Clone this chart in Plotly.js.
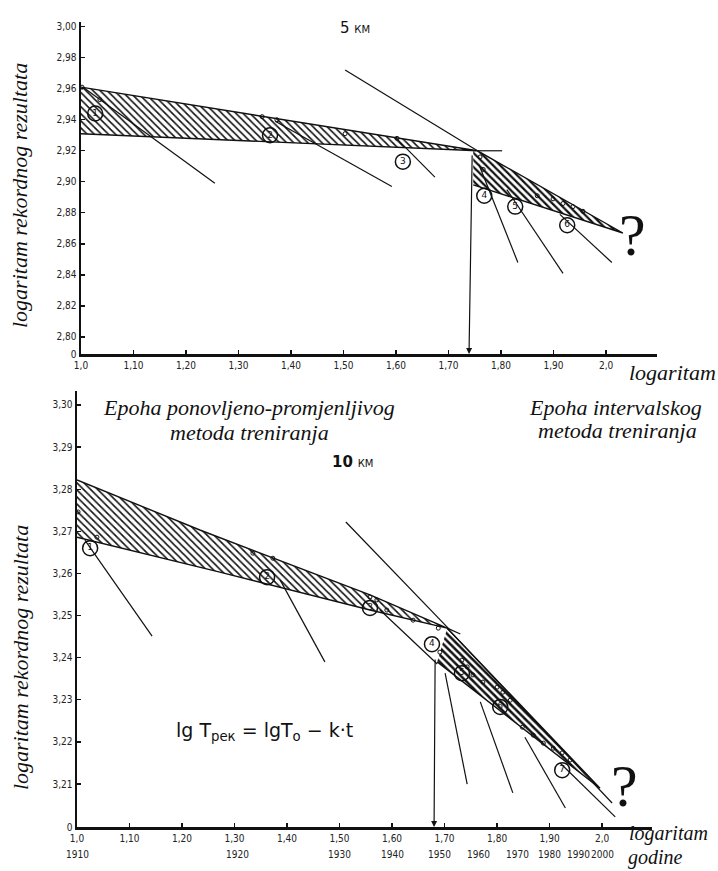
<!DOCTYPE html>
<html>
<head>
<meta charset="utf-8">
<script src="https://cdn.plot.ly/plotly-3.0.1.min.js"></script>
<style>html,body{margin:0;padding:0;background:#fff}#chart{width:718px;height:871px}</style>
</head>
<body>
<div id="chart"></div>
<script>
// ---------- axis ticks ----------
const xTickVals = [1.0, 1.1, 1.2, 1.3, 1.4, 1.5, 1.6, 1.7, 1.8, 1.9, 2.0];
const xTickText = ["1,0", "1,10", "1,20", "1,30", "1,40", "1,50", "1,60", "1,70", "1,80", "1,90", "2,0"];
const topYTickVals = [2.789, 2.80, 2.82, 2.84, 2.86, 2.88, 2.90, 2.92, 2.94, 2.96, 2.98, 3.00];
const topYTickText = ["0", "2,80", "2,82", "2,84", "2,86", "2,88", "2,90", "2,92", "2,94", "2,96", "2,98", "3,00"];
const botYTickVals = [3.1998, 3.21, 3.22, 3.23, 3.24, 3.25, 3.26, 3.27, 3.28, 3.29, 3.30];
const botYTickText = ["0", "3,21", "3,22", "3,23", "3,24", "3,25", "3,26", "3,27", "3,28", "3,29", "3,30"];
const yearLabels = ["1910", "1920", "1930", "1940", "1950", "1960", "1970", "1980", "1990", "2000"];
const yearPos = [1.0, 1.305, 1.50, 1.60, 1.69, 1.765, 1.838, 1.90, 1.955, 2.0];

// ---------- 5 km (top) ----------
const topLeftBandX = [1.0, 1.755, 1.0];
const topLeftBandY = [2.961, 2.92, 2.931];
const topRightBandX = [1.747, 1.755, 2.032, 1.747];
const topRightBandY = [2.92, 2.92, 2.867, 2.898];
const topLines = [           // [x1, y1, x2, y2]
  [1.503, 2.972, 1.755, 2.92],
  [1.755, 2.92, 1.802, 2.92],
  [1.004, 2.961, 1.255, 2.899],
  [1.370, 2.939, 1.592, 2.897],
  [1.598, 2.929, 1.674, 2.903],
  [1.758, 2.911, 1.832, 2.848],
  [1.811, 2.895, 1.918, 2.841],
  [1.912, 2.879, 2.011, 2.848]
];
const topArrow = [1.745, 2.918, 1.739, 2.789];
const topCircleX = [1.027, 1.36, 1.613, 1.768, 1.827, 1.926];
const topCircleY = [2.944, 2.930, 2.913, 2.891, 2.884, 2.872];
const topCircleLabels = ["1", "2", "3", "4", "5", "6"];
const topPointsX = [1.002, 1.036, 1.345, 1.373, 1.503, 1.602, 1.76, 1.766, 1.869, 1.899, 1.918, 1.937, 1.956];
const topPointsY = [2.961, 2.953, 2.942, 2.940, 2.931, 2.928, 2.916, 2.908, 2.891, 2.889, 2.886, 2.884, 2.881];

// ---------- 10 km (bottom) ----------
const botLeftBandX = [1.0, 1.234, 1.558, 1.705, 1.558, 1.272, 1.0];
const botLeftBandY = [3.2822, 3.2703, 3.2549, 3.2470, 3.2513, 3.2603, 3.2686];
const botRightBandX = [1.705, 1.996, 1.686];
const botRightBandY = [3.2470, 3.2090, 3.2390];
const botLines = [
  [1.512, 3.2722, 1.710, 3.2466],
  [1.705, 3.2470, 1.730, 3.2456],
  [1.705, 3.2470, 2.019, 3.2055],
  [1.920, 3.2150, 2.025, 3.2022],
  [1.015, 3.2679, 1.143, 3.2451],
  [1.387, 3.2584, 1.472, 3.2390],
  [1.577, 3.2513, 1.686, 3.2385],
  [1.701, 3.2363, 1.743, 3.2100],
  [1.768, 3.2295, 1.830, 3.2079],
  [1.853, 3.2211, 1.930, 3.2043]
];
const botArrow = [1.682, 3.2399, 1.680, 3.1998];
const botCircleX = [1.025, 1.362, 1.558, 1.676, 1.733, 1.806, 1.924];
const botCircleY = [3.2660, 3.2591, 3.2518, 3.2432, 3.2363, 3.2283, 3.2133];
const botCircleLabels = ["1", "2", "3", "4", "5", "6", "7"];
const botPointsX = [1.002, 1.038, 1.335, 1.373, 1.558, 1.571, 1.590, 1.640, 1.688, 1.691, 1.733, 1.743, 1.754, 1.773, 1.800, 1.811, 1.825, 1.848, 1.869, 1.888, 1.907, 1.924, 1.939];
const botPointsY = [3.2746, 3.2686, 3.2648, 3.2636, 3.2544, 3.2537, 3.2513, 3.2489, 3.2470, 3.2413, 3.2394, 3.2378, 3.2359, 3.2342, 3.2330, 3.2318, 3.2299, 3.2235, 3.2216, 3.2197, 3.2185, 3.2174, 3.2157];

// ---------- build ----------
const INK = '#111';
function band(x, y, xa, ya, sol) {
  return {x: x, y: y, xaxis: xa, yaxis: ya, mode: 'lines', fill: 'toself', type: 'scatter',
    line: {color: INK, width: 1.4}, fillcolor: 'rgba(0,0,0,0)',
    fillpattern: {shape: '\\', size: 5, solidity: sol, fgcolor: INK, bgcolor: 'white', fillmode: 'replace'},
    hoverinfo: 'skip'};
}
function segs(list, xa, ya) {
  const xs = [], ys = [];
  list.forEach(s => { xs.push(s[0], s[2], null); ys.push(s[1], s[3], null); });
  return {x: xs, y: ys, xaxis: xa, yaxis: ya, mode: 'lines', type: 'scatter',
    line: {color: INK, width: 1.2}, hoverinfo: 'skip'};
}
function pts(x, y, xa, ya) {
  return {x: x, y: y, xaxis: xa, yaxis: ya, mode: 'markers', type: 'scatter',
    marker: {symbol: 'circle-open', size: 4, color: INK, line: {width: 1, color: INK}}, hoverinfo: 'skip'};
}
function circles(x, y, t, xa, ya) {
  return {x: x, y: y, text: t, xaxis: xa, yaxis: ya, mode: 'markers+text', type: 'scatter',
    textposition: 'middle center', textfont: {family: 'DejaVu Sans', size: 9, color: INK},
    marker: {symbol: 'circle-open', size: 15, color: INK, line: {width: 1.5, color: INK}}, hoverinfo: 'skip'};
}

const data = [
  band(topLeftBandX, topLeftBandY, 'x', 'y', 0.32),
  band(topRightBandX, topRightBandY, 'x', 'y', 0.45),
  segs(topLines, 'x', 'y'),
  pts(topPointsX, topPointsY, 'x', 'y'),
  circles(topCircleX, topCircleY, topCircleLabels, 'x', 'y'),
  band(botLeftBandX, botLeftBandY, 'x2', 'y2', 0.32),
  band(botRightBandX, botRightBandY, 'x2', 'y2', 0.5),
  segs(botLines, 'x2', 'y2'),
  pts(botPointsX, botPointsY, 'x2', 'y2'),
  circles(botCircleX, botCircleY, botCircleLabels, 'x2', 'y2')
];

const tickFont = {family: "'Liberation Sans Narrow','DejaVu Sans Condensed',sans-serif", size: 10, color: '#222'};
const axBase = {showline: true, linewidth: 2.5, linecolor: INK, ticks: 'inside', ticklen: 4, tickwidth: 1.3,
  tickcolor: INK, showgrid: false, zeroline: false, tickfont: tickFont, fixedrange: true};

const serif = {family: "'Liberation Serif','Times New Roman',serif", size: 22, color: '#111'};
const serif20 = {family: "'Liberation Serif','Times New Roman',serif", size: 20, color: '#111'};
const annotations = [
  {text: '<i>logaritam rekordnog rezultata</i>', x: 0.0279, y: 0.775, textangle: -90},
  {text: '<i>logaritam rekordnog rezultata</i>', x: 0.0279, y: 0.2445, textangle: -90},
  {text: '<i>logaritam</i>', x: 0.9373, y: 0.5729},
  {text: '<i>logaritam</i>', x: 0.9304, y: 0.0436, font: serif20},
  {text: '<i>godine</i>', x: 0.9136, y: 0.0, yanchor: 'bottom', font: serif20},
  {text: '<i>Epoha ponovljeno-promjenljivog</i>', x: 0.3468, y: 0.5316},
  {text: '<i>metoda treniranja</i>', x: 0.3468, y: 0.5040},
  {text: '<i>Epoha intervalskog</i>', x: 0.8579, y: 0.5327},
  {text: '<i>metoda treniranja</i>', x: 0.8607, y: 0.5052}
].map(a => Object.assign({xref: 'paper', yref: 'paper', showarrow: false, font: serif,
  xanchor: 'center', yanchor: 'middle'}, a));

const hand = {family: "'DejaVu Sans',sans-serif", color: '#111'};
const qFont = {family: "'Liberation Serif',serif", size: 60, color: '#111'};
annotations.push(
  {text: '5 <span style="font-size:10px">КМ</span>', x: 0.4944, y: 0.9679, font: Object.assign({size: 15}, hand)},
  {text: '<b>10</b> <span style="font-size:10px">КМ</span>', x: 0.4916, y: 0.4696, font: Object.assign({size: 15}, hand)},
  {text: 'lg T<sub>рек</sub> = lgT<sub>o</sub> − k·t', x: 0.3677, y: 0.1607, font: Object.assign({size: 19}, hand)},
  {text: '?', x: 0.8816, y: 0.7302, font: qFont},
  {text: '?', x: 0.8691, y: 0.0976, font: qFont}
);
annotations.forEach(a => { if (!a.xref) Object.assign(a, {xref: 'paper', yref: 'paper', showarrow: false, xanchor: 'center', yanchor: 'middle'}); });

// arrows
[[topArrow, 'x', 'y'], [botArrow, 'x2', 'y2']].forEach(([a, xr, yr]) => {
  annotations.push({x: a[2], y: a[3], ax: a[0], ay: a[1], xref: xr, yref: yr, axref: xr, ayref: yr,
    text: '', showarrow: true, arrowhead: 2, arrowsize: 1, arrowwidth: 1.2, arrowcolor: INK, standoff: 0});
});
// year labels under bottom axis
yearLabels.forEach((t, i) => {
  annotations.push({text: t, x: yearPos[i], xref: 'x2', y: 0, yref: 'y2 domain', yanchor: 'top', xanchor: 'center',
    yshift: -20, showarrow: false, font: tickFont});
});

const layout = {
  width: 718, height: 871, margin: {l: 0, r: 0, t: 0, b: 0},
  paper_bgcolor: 'white', plot_bgcolor: 'white', showlegend: false,
  xaxis: Object.assign({}, axBase, {domain: [81 / 718, 657 / 718], range: [1.0, 2.097], anchor: 'y',
    tickvals: xTickVals, ticktext: xTickText}),
  yaxis: Object.assign({}, axBase, {domain: [1 - 354 / 871, 1 - 22 / 871], range: [2.789, 3.003], anchor: 'x',
    tickvals: topYTickVals, ticktext: topYTickText}),
  xaxis2: Object.assign({}, axBase, {domain: [77 / 718, 652 / 718], range: [1.0, 2.095], anchor: 'y2',
    tickvals: xTickVals, ticktext: xTickText}),
  yaxis2: Object.assign({}, axBase, {domain: [1 - 827 / 871, 1 - 391 / 871], range: [3.1998, 3.3033], anchor: 'x2',
    tickvals: botYTickVals, ticktext: botYTickText}),
  annotations: annotations
};

Plotly.newPlot('chart', data, layout, {staticPlot: true, displayModeBar: false});
</script>
</body>
</html>
